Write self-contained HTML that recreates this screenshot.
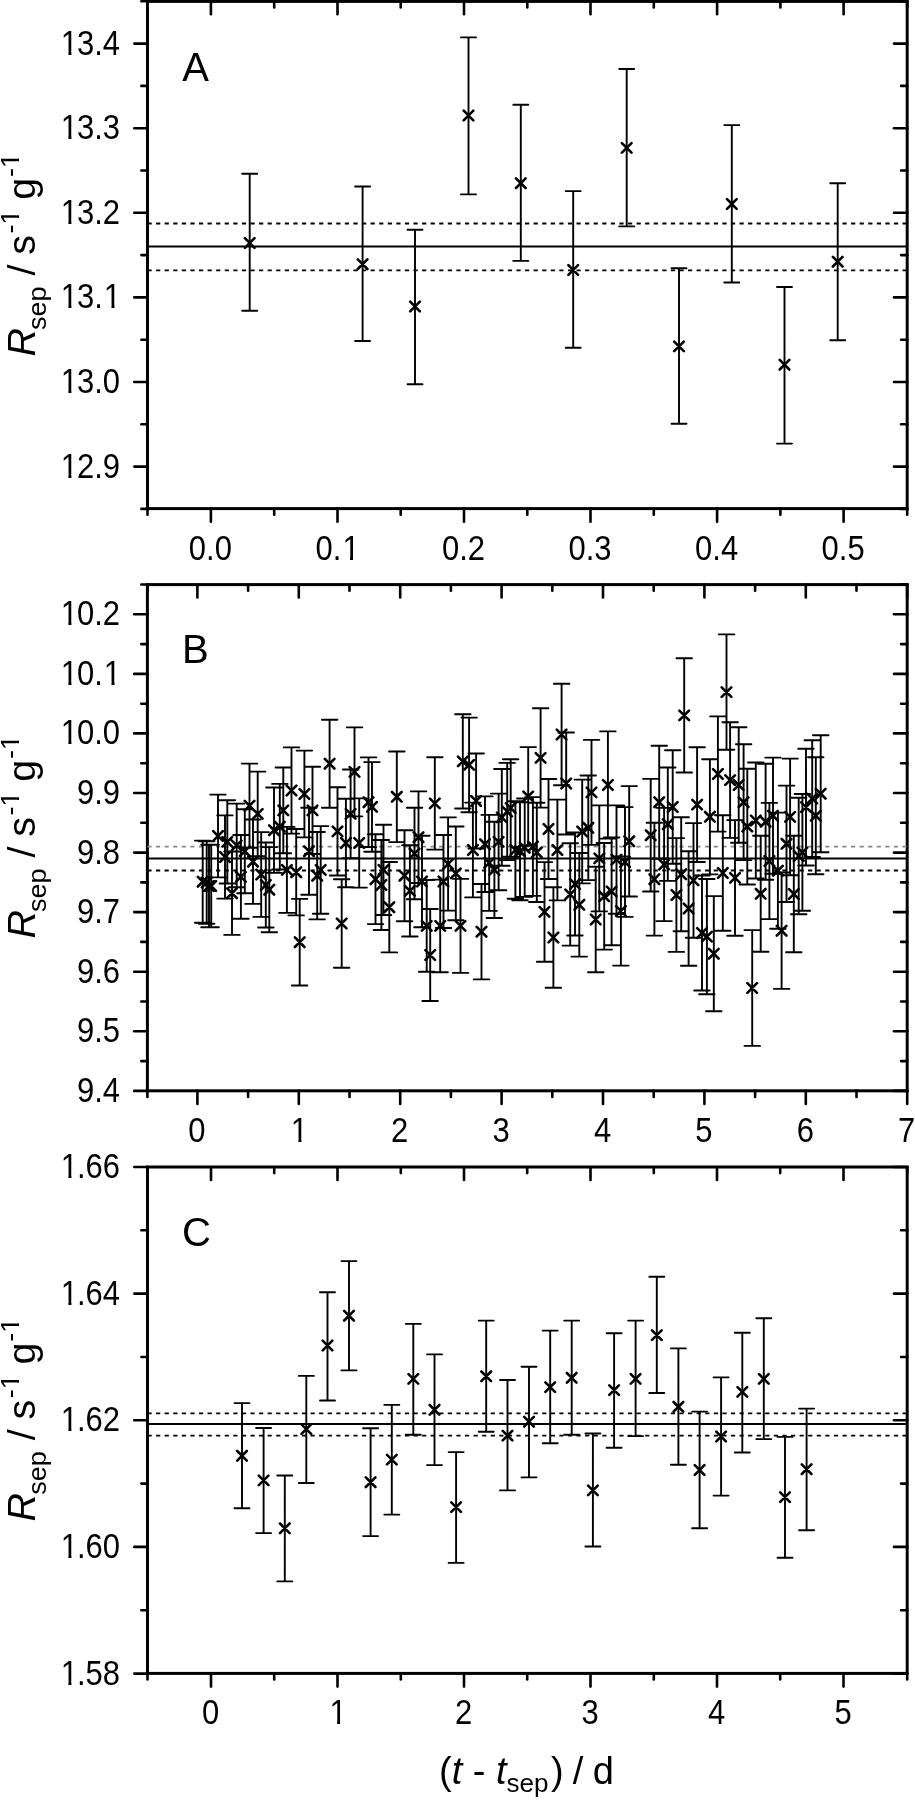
<!DOCTYPE html>
<html><head><meta charset="utf-8"><style>
html,body{margin:0;padding:0;background:#fff;}
svg{display:block;will-change:transform;}
text{font-family:"Liberation Sans", sans-serif;fill:#000;}
</style></head><body>
<svg width="915" height="1800" viewBox="0 0 915 1800">
<g stroke="#000" fill="none" stroke-linecap="butt">
<rect x="147.5" y="1.4" width="759.7" height="507.2" fill="none" stroke-width="3.0"/>
<line x1="210.9" y1="508.6" x2="210.9" y2="521.8" stroke-width="2.6" stroke-linecap="round"/>
<line x1="210.9" y1="1.4" x2="210.9" y2="14.3" stroke-width="2.6" stroke-linecap="round"/>
<line x1="337.5" y1="508.6" x2="337.5" y2="521.8" stroke-width="2.6" stroke-linecap="round"/>
<line x1="337.5" y1="1.4" x2="337.5" y2="14.3" stroke-width="2.6" stroke-linecap="round"/>
<line x1="464.0" y1="508.6" x2="464.0" y2="521.8" stroke-width="2.6" stroke-linecap="round"/>
<line x1="464.0" y1="1.4" x2="464.0" y2="14.3" stroke-width="2.6" stroke-linecap="round"/>
<line x1="590.5" y1="508.6" x2="590.5" y2="521.8" stroke-width="2.6" stroke-linecap="round"/>
<line x1="590.5" y1="1.4" x2="590.5" y2="14.3" stroke-width="2.6" stroke-linecap="round"/>
<line x1="717.1" y1="508.6" x2="717.1" y2="521.8" stroke-width="2.6" stroke-linecap="round"/>
<line x1="717.1" y1="1.4" x2="717.1" y2="14.3" stroke-width="2.6" stroke-linecap="round"/>
<line x1="843.6" y1="508.6" x2="843.6" y2="521.8" stroke-width="2.6" stroke-linecap="round"/>
<line x1="843.6" y1="1.4" x2="843.6" y2="14.3" stroke-width="2.6" stroke-linecap="round"/>
<line x1="147.5" y1="508.6" x2="147.5" y2="514.7" stroke-width="2.6" stroke-linecap="round"/>
<line x1="147.5" y1="1.4" x2="147.5" y2="7.5" stroke-width="2.6" stroke-linecap="round"/>
<line x1="274.2" y1="508.6" x2="274.2" y2="514.7" stroke-width="2.6" stroke-linecap="round"/>
<line x1="274.2" y1="1.4" x2="274.2" y2="7.5" stroke-width="2.6" stroke-linecap="round"/>
<line x1="400.7" y1="508.6" x2="400.7" y2="514.7" stroke-width="2.6" stroke-linecap="round"/>
<line x1="400.7" y1="1.4" x2="400.7" y2="7.5" stroke-width="2.6" stroke-linecap="round"/>
<line x1="527.3" y1="508.6" x2="527.3" y2="514.7" stroke-width="2.6" stroke-linecap="round"/>
<line x1="527.3" y1="1.4" x2="527.3" y2="7.5" stroke-width="2.6" stroke-linecap="round"/>
<line x1="653.8" y1="508.6" x2="653.8" y2="514.7" stroke-width="2.6" stroke-linecap="round"/>
<line x1="653.8" y1="1.4" x2="653.8" y2="7.5" stroke-width="2.6" stroke-linecap="round"/>
<line x1="780.4" y1="508.6" x2="780.4" y2="514.7" stroke-width="2.6" stroke-linecap="round"/>
<line x1="780.4" y1="1.4" x2="780.4" y2="7.5" stroke-width="2.6" stroke-linecap="round"/>
<line x1="907.2" y1="508.6" x2="907.2" y2="514.7" stroke-width="2.6" stroke-linecap="round"/>
<line x1="907.2" y1="1.4" x2="907.2" y2="7.5" stroke-width="2.6" stroke-linecap="round"/>
<line x1="134.3" y1="466.6" x2="147.5" y2="466.6" stroke-width="2.6" stroke-linecap="round"/>
<line x1="907.2" y1="466.6" x2="894.0" y2="466.6" stroke-width="2.6" stroke-linecap="round"/>
<line x1="134.3" y1="382.0" x2="147.5" y2="382.0" stroke-width="2.6" stroke-linecap="round"/>
<line x1="907.2" y1="382.0" x2="894.0" y2="382.0" stroke-width="2.6" stroke-linecap="round"/>
<line x1="134.3" y1="297.4" x2="147.5" y2="297.4" stroke-width="2.6" stroke-linecap="round"/>
<line x1="907.2" y1="297.4" x2="894.0" y2="297.4" stroke-width="2.6" stroke-linecap="round"/>
<line x1="134.3" y1="212.8" x2="147.5" y2="212.8" stroke-width="2.6" stroke-linecap="round"/>
<line x1="907.2" y1="212.8" x2="894.0" y2="212.8" stroke-width="2.6" stroke-linecap="round"/>
<line x1="134.3" y1="128.2" x2="147.5" y2="128.2" stroke-width="2.6" stroke-linecap="round"/>
<line x1="907.2" y1="128.2" x2="894.0" y2="128.2" stroke-width="2.6" stroke-linecap="round"/>
<line x1="134.3" y1="43.6" x2="147.5" y2="43.6" stroke-width="2.6" stroke-linecap="round"/>
<line x1="907.2" y1="43.6" x2="894.0" y2="43.6" stroke-width="2.6" stroke-linecap="round"/>
<line x1="141.4" y1="508.9" x2="147.5" y2="508.9" stroke-width="2.6" stroke-linecap="round"/>
<line x1="907.2" y1="508.9" x2="901.1" y2="508.9" stroke-width="2.6" stroke-linecap="round"/>
<line x1="141.4" y1="424.3" x2="147.5" y2="424.3" stroke-width="2.6" stroke-linecap="round"/>
<line x1="907.2" y1="424.3" x2="901.1" y2="424.3" stroke-width="2.6" stroke-linecap="round"/>
<line x1="141.4" y1="339.7" x2="147.5" y2="339.7" stroke-width="2.6" stroke-linecap="round"/>
<line x1="907.2" y1="339.7" x2="901.1" y2="339.7" stroke-width="2.6" stroke-linecap="round"/>
<line x1="141.4" y1="255.1" x2="147.5" y2="255.1" stroke-width="2.6" stroke-linecap="round"/>
<line x1="907.2" y1="255.1" x2="901.1" y2="255.1" stroke-width="2.6" stroke-linecap="round"/>
<line x1="141.4" y1="170.5" x2="147.5" y2="170.5" stroke-width="2.6" stroke-linecap="round"/>
<line x1="907.2" y1="170.5" x2="901.1" y2="170.5" stroke-width="2.6" stroke-linecap="round"/>
<line x1="141.4" y1="85.9" x2="147.5" y2="85.9" stroke-width="2.6" stroke-linecap="round"/>
<line x1="907.2" y1="85.9" x2="901.1" y2="85.9" stroke-width="2.6" stroke-linecap="round"/>
<line x1="141.4" y1="1.3" x2="147.5" y2="1.3" stroke-width="2.6" stroke-linecap="round"/>
<line x1="907.2" y1="1.3" x2="901.1" y2="1.3" stroke-width="2.6" stroke-linecap="round"/>
<g transform="translate(210.4,559.5) scale(1,1.11)"><text stroke="none" fill="#000" x="-21.55" y="0" font-size="31">0</text><text stroke="none" fill="#000" x="-4.31" y="0" font-size="31">.</text><text stroke="none" fill="#000" x="4.31" y="0" font-size="31">0</text></g>
<g transform="translate(337.0,559.5) scale(1,1.11)"><text stroke="none" fill="#000" x="-21.55" y="0" font-size="31">0</text><text stroke="none" fill="#000" x="-4.31" y="0" font-size="31">.</text><text stroke="none" fill="#000" x="5.39" y="0" font-size="31">1</text><rect x="6.94" y="-3.10" width="6.08" height="4.65" fill="#fff" stroke="none"/><rect x="16.05" y="-3.10" width="6.20" height="4.65" fill="#fff" stroke="none"/></g>
<g transform="translate(463.5,559.5) scale(1,1.11)"><text stroke="none" fill="#000" x="-21.55" y="0" font-size="31">0</text><text stroke="none" fill="#000" x="-4.31" y="0" font-size="31">.</text><text stroke="none" fill="#000" x="4.31" y="0" font-size="31">2</text></g>
<g transform="translate(590.0,559.5) scale(1,1.11)"><text stroke="none" fill="#000" x="-21.55" y="0" font-size="31">0</text><text stroke="none" fill="#000" x="-4.31" y="0" font-size="31">.</text><text stroke="none" fill="#000" x="4.31" y="0" font-size="31">3</text></g>
<g transform="translate(716.6,559.5) scale(1,1.11)"><text stroke="none" fill="#000" x="-21.55" y="0" font-size="31">0</text><text stroke="none" fill="#000" x="-4.31" y="0" font-size="31">.</text><text stroke="none" fill="#000" x="4.31" y="0" font-size="31">4</text></g>
<g transform="translate(843.1,559.5) scale(1,1.11)"><text stroke="none" fill="#000" x="-21.55" y="0" font-size="31">0</text><text stroke="none" fill="#000" x="-4.31" y="0" font-size="31">.</text><text stroke="none" fill="#000" x="4.31" y="0" font-size="31">5</text></g>
<g transform="translate(120.0,477.5) scale(1,1.11)"><text stroke="none" fill="#000" x="-59.24" y="0" font-size="31">1</text><text stroke="none" fill="#000" x="-43.09" y="0" font-size="31">2</text><text stroke="none" fill="#000" x="-25.85" y="0" font-size="31">.</text><text stroke="none" fill="#000" x="-17.24" y="0" font-size="31">9</text><rect x="-57.69" y="-3.10" width="6.08" height="4.65" fill="#fff" stroke="none"/><rect x="-48.58" y="-3.10" width="6.20" height="4.65" fill="#fff" stroke="none"/></g>
<g transform="translate(120.0,392.9) scale(1,1.11)"><text stroke="none" fill="#000" x="-59.24" y="0" font-size="31">1</text><text stroke="none" fill="#000" x="-43.09" y="0" font-size="31">3</text><text stroke="none" fill="#000" x="-25.85" y="0" font-size="31">.</text><text stroke="none" fill="#000" x="-17.24" y="0" font-size="31">0</text><rect x="-57.69" y="-3.10" width="6.08" height="4.65" fill="#fff" stroke="none"/><rect x="-48.58" y="-3.10" width="6.20" height="4.65" fill="#fff" stroke="none"/></g>
<g transform="translate(120.0,308.3) scale(1,1.11)"><text stroke="none" fill="#000" x="-59.24" y="0" font-size="31">1</text><text stroke="none" fill="#000" x="-43.09" y="0" font-size="31">3</text><text stroke="none" fill="#000" x="-25.85" y="0" font-size="31">.</text><text stroke="none" fill="#000" x="-16.15" y="0" font-size="31">1</text><rect x="-57.69" y="-3.10" width="6.08" height="4.65" fill="#fff" stroke="none"/><rect x="-48.58" y="-3.10" width="6.20" height="4.65" fill="#fff" stroke="none"/><rect x="-14.60" y="-3.10" width="6.08" height="4.65" fill="#fff" stroke="none"/><rect x="-5.49" y="-3.10" width="6.20" height="4.65" fill="#fff" stroke="none"/></g>
<g transform="translate(120.0,223.7) scale(1,1.11)"><text stroke="none" fill="#000" x="-59.24" y="0" font-size="31">1</text><text stroke="none" fill="#000" x="-43.09" y="0" font-size="31">3</text><text stroke="none" fill="#000" x="-25.85" y="0" font-size="31">.</text><text stroke="none" fill="#000" x="-17.24" y="0" font-size="31">2</text><rect x="-57.69" y="-3.10" width="6.08" height="4.65" fill="#fff" stroke="none"/><rect x="-48.58" y="-3.10" width="6.20" height="4.65" fill="#fff" stroke="none"/></g>
<g transform="translate(120.0,139.1) scale(1,1.11)"><text stroke="none" fill="#000" x="-59.24" y="0" font-size="31">1</text><text stroke="none" fill="#000" x="-43.09" y="0" font-size="31">3</text><text stroke="none" fill="#000" x="-25.85" y="0" font-size="31">.</text><text stroke="none" fill="#000" x="-17.24" y="0" font-size="31">3</text><rect x="-57.69" y="-3.10" width="6.08" height="4.65" fill="#fff" stroke="none"/><rect x="-48.58" y="-3.10" width="6.20" height="4.65" fill="#fff" stroke="none"/></g>
<g transform="translate(120.0,54.5) scale(1,1.11)"><text stroke="none" fill="#000" x="-59.24" y="0" font-size="31">1</text><text stroke="none" fill="#000" x="-43.09" y="0" font-size="31">3</text><text stroke="none" fill="#000" x="-25.85" y="0" font-size="31">.</text><text stroke="none" fill="#000" x="-17.24" y="0" font-size="31">4</text><rect x="-57.69" y="-3.10" width="6.08" height="4.65" fill="#fff" stroke="none"/><rect x="-48.58" y="-3.10" width="6.20" height="4.65" fill="#fff" stroke="none"/></g>
<text stroke="none" fill="#000" x="182.2" y="80.5" font-size="40" text-anchor="start" >A</text>
<line x1="147.5" y1="246.5" x2="907.2" y2="246.5" stroke-width="2.0" />
<line x1="147.5" y1="223.5" x2="907.2" y2="223.5" stroke-width="1.8" stroke-dasharray="4.2 4.38"/>
<line x1="147.5" y1="270.4" x2="907.2" y2="270.4" stroke-width="1.8" stroke-dasharray="4.2 4.38"/>
<path d="M249.7,173.7V310.7M242.2,173.7h15.0M242.2,310.7h15.0M362.6,186.5V341.0M355.1,186.5h15.0M355.1,341.0h15.0M415.0,229.7V384.2M407.5,229.7h15.0M407.5,384.2h15.0M468.5,37.4V194.4M461.0,37.4h15.0M461.0,194.4h15.0M520.8,104.7V260.9M513.3,104.7h15.0M513.3,260.9h15.0M573.2,191.1V347.7M565.7,191.1h15.0M565.7,347.7h15.0M626.7,69.0V226.4M619.2,69.0h15.0M619.2,226.4h15.0M679.0,268.3V423.7M671.5,268.3h15.0M671.5,423.7h15.0M731.8,125.1V282.5M724.3,125.1h15.0M724.3,282.5h15.0M784.5,287.0V443.6M777.0,287.0h15.0M777.0,443.6h15.0M837.7,183.2V340.2M830.2,183.2h15.0M830.2,340.2h15.0" stroke-width="1.9" stroke-linecap="round"/>
<path d="M244.9,238.2l9.6,9.6M244.9,247.8l9.6,-9.6M357.8,259.4l9.6,9.6M357.8,269.0l9.6,-9.6M410.2,301.7l9.6,9.6M410.2,311.3l9.6,-9.6M463.7,110.7l9.6,9.6M463.7,120.3l9.6,-9.6M516.0,178.4l9.6,9.6M516.0,188.0l9.6,-9.6M568.4,265.2l9.6,9.6M568.4,274.8l9.6,-9.6M621.9,143.1l9.6,9.6M621.9,152.7l9.6,-9.6M674.2,341.6l9.6,9.6M674.2,351.2l9.6,-9.6M727.0,199.2l9.6,9.6M727.0,208.8l9.6,-9.6M779.7,359.9l9.6,9.6M779.7,369.5l9.6,-9.6M832.9,256.9l9.6,9.6M832.9,266.5l9.6,-9.6" stroke-width="2.6" stroke-linecap="round"/>
<rect x="147.4" y="584.6" width="759.8" height="506.2" fill="none" stroke-width="3.0"/>
<line x1="197.4" y1="1090.8" x2="197.4" y2="1104.0" stroke-width="2.6" stroke-linecap="round"/>
<line x1="197.4" y1="584.6" x2="197.4" y2="597.5" stroke-width="2.6" stroke-linecap="round"/>
<line x1="298.8" y1="1090.8" x2="298.8" y2="1104.0" stroke-width="2.6" stroke-linecap="round"/>
<line x1="298.8" y1="584.6" x2="298.8" y2="597.5" stroke-width="2.6" stroke-linecap="round"/>
<line x1="400.2" y1="1090.8" x2="400.2" y2="1104.0" stroke-width="2.6" stroke-linecap="round"/>
<line x1="400.2" y1="584.6" x2="400.2" y2="597.5" stroke-width="2.6" stroke-linecap="round"/>
<line x1="501.6" y1="1090.8" x2="501.6" y2="1104.0" stroke-width="2.6" stroke-linecap="round"/>
<line x1="501.6" y1="584.6" x2="501.6" y2="597.5" stroke-width="2.6" stroke-linecap="round"/>
<line x1="603.0" y1="1090.8" x2="603.0" y2="1104.0" stroke-width="2.6" stroke-linecap="round"/>
<line x1="603.0" y1="584.6" x2="603.0" y2="597.5" stroke-width="2.6" stroke-linecap="round"/>
<line x1="704.4" y1="1090.8" x2="704.4" y2="1104.0" stroke-width="2.6" stroke-linecap="round"/>
<line x1="704.4" y1="584.6" x2="704.4" y2="597.5" stroke-width="2.6" stroke-linecap="round"/>
<line x1="805.8" y1="1090.8" x2="805.8" y2="1104.0" stroke-width="2.6" stroke-linecap="round"/>
<line x1="805.8" y1="584.6" x2="805.8" y2="597.5" stroke-width="2.6" stroke-linecap="round"/>
<line x1="907.2" y1="1090.8" x2="907.2" y2="1104.0" stroke-width="2.6" stroke-linecap="round"/>
<line x1="907.2" y1="584.6" x2="907.2" y2="597.5" stroke-width="2.6" stroke-linecap="round"/>
<line x1="147.4" y1="1090.8" x2="147.4" y2="1096.9" stroke-width="2.6" stroke-linecap="round"/>
<line x1="147.4" y1="584.6" x2="147.4" y2="590.7" stroke-width="2.6" stroke-linecap="round"/>
<line x1="248.1" y1="1090.8" x2="248.1" y2="1096.9" stroke-width="2.6" stroke-linecap="round"/>
<line x1="248.1" y1="584.6" x2="248.1" y2="590.7" stroke-width="2.6" stroke-linecap="round"/>
<line x1="349.5" y1="1090.8" x2="349.5" y2="1096.9" stroke-width="2.6" stroke-linecap="round"/>
<line x1="349.5" y1="584.6" x2="349.5" y2="590.7" stroke-width="2.6" stroke-linecap="round"/>
<line x1="450.9" y1="1090.8" x2="450.9" y2="1096.9" stroke-width="2.6" stroke-linecap="round"/>
<line x1="450.9" y1="584.6" x2="450.9" y2="590.7" stroke-width="2.6" stroke-linecap="round"/>
<line x1="552.3" y1="1090.8" x2="552.3" y2="1096.9" stroke-width="2.6" stroke-linecap="round"/>
<line x1="552.3" y1="584.6" x2="552.3" y2="590.7" stroke-width="2.6" stroke-linecap="round"/>
<line x1="653.7" y1="1090.8" x2="653.7" y2="1096.9" stroke-width="2.6" stroke-linecap="round"/>
<line x1="653.7" y1="584.6" x2="653.7" y2="590.7" stroke-width="2.6" stroke-linecap="round"/>
<line x1="755.1" y1="1090.8" x2="755.1" y2="1096.9" stroke-width="2.6" stroke-linecap="round"/>
<line x1="755.1" y1="584.6" x2="755.1" y2="590.7" stroke-width="2.6" stroke-linecap="round"/>
<line x1="856.5" y1="1090.8" x2="856.5" y2="1096.9" stroke-width="2.6" stroke-linecap="round"/>
<line x1="856.5" y1="584.6" x2="856.5" y2="590.7" stroke-width="2.6" stroke-linecap="round"/>
<line x1="134.2" y1="1090.9" x2="147.4" y2="1090.9" stroke-width="2.6" stroke-linecap="round"/>
<line x1="907.2" y1="1090.9" x2="894.0" y2="1090.9" stroke-width="2.6" stroke-linecap="round"/>
<line x1="134.2" y1="1031.3" x2="147.4" y2="1031.3" stroke-width="2.6" stroke-linecap="round"/>
<line x1="907.2" y1="1031.3" x2="894.0" y2="1031.3" stroke-width="2.6" stroke-linecap="round"/>
<line x1="134.2" y1="971.7" x2="147.4" y2="971.7" stroke-width="2.6" stroke-linecap="round"/>
<line x1="907.2" y1="971.7" x2="894.0" y2="971.7" stroke-width="2.6" stroke-linecap="round"/>
<line x1="134.2" y1="912.1" x2="147.4" y2="912.1" stroke-width="2.6" stroke-linecap="round"/>
<line x1="907.2" y1="912.1" x2="894.0" y2="912.1" stroke-width="2.6" stroke-linecap="round"/>
<line x1="134.2" y1="852.6" x2="147.4" y2="852.6" stroke-width="2.6" stroke-linecap="round"/>
<line x1="907.2" y1="852.6" x2="894.0" y2="852.6" stroke-width="2.6" stroke-linecap="round"/>
<line x1="134.2" y1="793.0" x2="147.4" y2="793.0" stroke-width="2.6" stroke-linecap="round"/>
<line x1="907.2" y1="793.0" x2="894.0" y2="793.0" stroke-width="2.6" stroke-linecap="round"/>
<line x1="134.2" y1="733.4" x2="147.4" y2="733.4" stroke-width="2.6" stroke-linecap="round"/>
<line x1="907.2" y1="733.4" x2="894.0" y2="733.4" stroke-width="2.6" stroke-linecap="round"/>
<line x1="134.2" y1="673.9" x2="147.4" y2="673.9" stroke-width="2.6" stroke-linecap="round"/>
<line x1="907.2" y1="673.9" x2="894.0" y2="673.9" stroke-width="2.6" stroke-linecap="round"/>
<line x1="134.2" y1="614.3" x2="147.4" y2="614.3" stroke-width="2.6" stroke-linecap="round"/>
<line x1="907.2" y1="614.3" x2="894.0" y2="614.3" stroke-width="2.6" stroke-linecap="round"/>
<line x1="141.3" y1="1061.1" x2="147.4" y2="1061.1" stroke-width="2.6" stroke-linecap="round"/>
<line x1="907.2" y1="1061.1" x2="901.1" y2="1061.1" stroke-width="2.6" stroke-linecap="round"/>
<line x1="141.3" y1="1001.5" x2="147.4" y2="1001.5" stroke-width="2.6" stroke-linecap="round"/>
<line x1="907.2" y1="1001.5" x2="901.1" y2="1001.5" stroke-width="2.6" stroke-linecap="round"/>
<line x1="141.3" y1="941.9" x2="147.4" y2="941.9" stroke-width="2.6" stroke-linecap="round"/>
<line x1="907.2" y1="941.9" x2="901.1" y2="941.9" stroke-width="2.6" stroke-linecap="round"/>
<line x1="141.3" y1="882.4" x2="147.4" y2="882.4" stroke-width="2.6" stroke-linecap="round"/>
<line x1="907.2" y1="882.4" x2="901.1" y2="882.4" stroke-width="2.6" stroke-linecap="round"/>
<line x1="141.3" y1="822.8" x2="147.4" y2="822.8" stroke-width="2.6" stroke-linecap="round"/>
<line x1="907.2" y1="822.8" x2="901.1" y2="822.8" stroke-width="2.6" stroke-linecap="round"/>
<line x1="141.3" y1="763.2" x2="147.4" y2="763.2" stroke-width="2.6" stroke-linecap="round"/>
<line x1="907.2" y1="763.2" x2="901.1" y2="763.2" stroke-width="2.6" stroke-linecap="round"/>
<line x1="141.3" y1="703.7" x2="147.4" y2="703.7" stroke-width="2.6" stroke-linecap="round"/>
<line x1="907.2" y1="703.7" x2="901.1" y2="703.7" stroke-width="2.6" stroke-linecap="round"/>
<line x1="141.3" y1="644.1" x2="147.4" y2="644.1" stroke-width="2.6" stroke-linecap="round"/>
<line x1="907.2" y1="644.1" x2="901.1" y2="644.1" stroke-width="2.6" stroke-linecap="round"/>
<line x1="141.3" y1="584.5" x2="147.4" y2="584.5" stroke-width="2.6" stroke-linecap="round"/>
<line x1="907.2" y1="584.5" x2="901.1" y2="584.5" stroke-width="2.6" stroke-linecap="round"/>
<g transform="translate(196.9,1141.7) scale(1,1.11)"><text stroke="none" fill="#000" x="-8.62" y="0" font-size="31">0</text></g>
<g transform="translate(298.3,1141.7) scale(1,1.11)"><text stroke="none" fill="#000" x="-7.53" y="0" font-size="31">1</text><rect x="-5.98" y="-3.10" width="6.08" height="4.65" fill="#fff" stroke="none"/><rect x="3.13" y="-3.10" width="6.20" height="4.65" fill="#fff" stroke="none"/></g>
<g transform="translate(399.7,1141.7) scale(1,1.11)"><text stroke="none" fill="#000" x="-8.62" y="0" font-size="31">2</text></g>
<g transform="translate(501.1,1141.7) scale(1,1.11)"><text stroke="none" fill="#000" x="-8.62" y="0" font-size="31">3</text></g>
<g transform="translate(602.5,1141.7) scale(1,1.11)"><text stroke="none" fill="#000" x="-8.62" y="0" font-size="31">4</text></g>
<g transform="translate(703.9,1141.7) scale(1,1.11)"><text stroke="none" fill="#000" x="-8.62" y="0" font-size="31">5</text></g>
<g transform="translate(805.3,1141.7) scale(1,1.11)"><text stroke="none" fill="#000" x="-8.62" y="0" font-size="31">6</text></g>
<g transform="translate(906.7,1141.7) scale(1,1.11)"><text stroke="none" fill="#000" x="-8.62" y="0" font-size="31">7</text></g>
<g transform="translate(120.0,1101.8) scale(1,1.11)"><text stroke="none" fill="#000" x="-43.09" y="0" font-size="31">9</text><text stroke="none" fill="#000" x="-25.85" y="0" font-size="31">.</text><text stroke="none" fill="#000" x="-17.24" y="0" font-size="31">4</text></g>
<g transform="translate(120.0,1042.2) scale(1,1.11)"><text stroke="none" fill="#000" x="-43.09" y="0" font-size="31">9</text><text stroke="none" fill="#000" x="-25.85" y="0" font-size="31">.</text><text stroke="none" fill="#000" x="-17.24" y="0" font-size="31">5</text></g>
<g transform="translate(120.0,982.6) scale(1,1.11)"><text stroke="none" fill="#000" x="-43.09" y="0" font-size="31">9</text><text stroke="none" fill="#000" x="-25.85" y="0" font-size="31">.</text><text stroke="none" fill="#000" x="-17.24" y="0" font-size="31">6</text></g>
<g transform="translate(120.0,923.0) scale(1,1.11)"><text stroke="none" fill="#000" x="-43.09" y="0" font-size="31">9</text><text stroke="none" fill="#000" x="-25.85" y="0" font-size="31">.</text><text stroke="none" fill="#000" x="-17.24" y="0" font-size="31">7</text></g>
<g transform="translate(120.0,863.5) scale(1,1.11)"><text stroke="none" fill="#000" x="-43.09" y="0" font-size="31">9</text><text stroke="none" fill="#000" x="-25.85" y="0" font-size="31">.</text><text stroke="none" fill="#000" x="-17.24" y="0" font-size="31">8</text></g>
<g transform="translate(120.0,803.9) scale(1,1.11)"><text stroke="none" fill="#000" x="-43.09" y="0" font-size="31">9</text><text stroke="none" fill="#000" x="-25.85" y="0" font-size="31">.</text><text stroke="none" fill="#000" x="-17.24" y="0" font-size="31">9</text></g>
<g transform="translate(120.0,744.3) scale(1,1.11)"><text stroke="none" fill="#000" x="-59.24" y="0" font-size="31">1</text><text stroke="none" fill="#000" x="-43.09" y="0" font-size="31">0</text><text stroke="none" fill="#000" x="-25.85" y="0" font-size="31">.</text><text stroke="none" fill="#000" x="-17.24" y="0" font-size="31">0</text><rect x="-57.69" y="-3.10" width="6.08" height="4.65" fill="#fff" stroke="none"/><rect x="-48.58" y="-3.10" width="6.20" height="4.65" fill="#fff" stroke="none"/></g>
<g transform="translate(120.0,684.8) scale(1,1.11)"><text stroke="none" fill="#000" x="-59.24" y="0" font-size="31">1</text><text stroke="none" fill="#000" x="-43.09" y="0" font-size="31">0</text><text stroke="none" fill="#000" x="-25.85" y="0" font-size="31">.</text><text stroke="none" fill="#000" x="-16.15" y="0" font-size="31">1</text><rect x="-57.69" y="-3.10" width="6.08" height="4.65" fill="#fff" stroke="none"/><rect x="-48.58" y="-3.10" width="6.20" height="4.65" fill="#fff" stroke="none"/><rect x="-14.60" y="-3.10" width="6.08" height="4.65" fill="#fff" stroke="none"/><rect x="-5.49" y="-3.10" width="6.20" height="4.65" fill="#fff" stroke="none"/></g>
<g transform="translate(120.0,625.2) scale(1,1.11)"><text stroke="none" fill="#000" x="-59.24" y="0" font-size="31">1</text><text stroke="none" fill="#000" x="-43.09" y="0" font-size="31">0</text><text stroke="none" fill="#000" x="-25.85" y="0" font-size="31">.</text><text stroke="none" fill="#000" x="-17.24" y="0" font-size="31">2</text><rect x="-57.69" y="-3.10" width="6.08" height="4.65" fill="#fff" stroke="none"/><rect x="-48.58" y="-3.10" width="6.20" height="4.65" fill="#fff" stroke="none"/></g>
<text stroke="none" fill="#000" x="182.0" y="662.5" font-size="40" text-anchor="start" >B</text>
<rect x="147.5" y="1167.0" width="759.7" height="506.4" fill="none" stroke-width="3.0"/>
<line x1="211.0" y1="1673.4" x2="211.0" y2="1686.6" stroke-width="2.6" stroke-linecap="round"/>
<line x1="211.0" y1="1167.0" x2="211.0" y2="1179.9" stroke-width="2.6" stroke-linecap="round"/>
<line x1="337.5" y1="1673.4" x2="337.5" y2="1686.6" stroke-width="2.6" stroke-linecap="round"/>
<line x1="337.5" y1="1167.0" x2="337.5" y2="1179.9" stroke-width="2.6" stroke-linecap="round"/>
<line x1="464.0" y1="1673.4" x2="464.0" y2="1686.6" stroke-width="2.6" stroke-linecap="round"/>
<line x1="464.0" y1="1167.0" x2="464.0" y2="1179.9" stroke-width="2.6" stroke-linecap="round"/>
<line x1="590.5" y1="1673.4" x2="590.5" y2="1686.6" stroke-width="2.6" stroke-linecap="round"/>
<line x1="590.5" y1="1167.0" x2="590.5" y2="1179.9" stroke-width="2.6" stroke-linecap="round"/>
<line x1="717.0" y1="1673.4" x2="717.0" y2="1686.6" stroke-width="2.6" stroke-linecap="round"/>
<line x1="717.0" y1="1167.0" x2="717.0" y2="1179.9" stroke-width="2.6" stroke-linecap="round"/>
<line x1="843.5" y1="1673.4" x2="843.5" y2="1686.6" stroke-width="2.6" stroke-linecap="round"/>
<line x1="843.5" y1="1167.0" x2="843.5" y2="1179.9" stroke-width="2.6" stroke-linecap="round"/>
<line x1="147.5" y1="1673.4" x2="147.5" y2="1679.5" stroke-width="2.6" stroke-linecap="round"/>
<line x1="147.5" y1="1167.0" x2="147.5" y2="1173.1" stroke-width="2.6" stroke-linecap="round"/>
<line x1="274.2" y1="1673.4" x2="274.2" y2="1679.5" stroke-width="2.6" stroke-linecap="round"/>
<line x1="274.2" y1="1167.0" x2="274.2" y2="1173.1" stroke-width="2.6" stroke-linecap="round"/>
<line x1="400.8" y1="1673.4" x2="400.8" y2="1679.5" stroke-width="2.6" stroke-linecap="round"/>
<line x1="400.8" y1="1167.0" x2="400.8" y2="1173.1" stroke-width="2.6" stroke-linecap="round"/>
<line x1="527.2" y1="1673.4" x2="527.2" y2="1679.5" stroke-width="2.6" stroke-linecap="round"/>
<line x1="527.2" y1="1167.0" x2="527.2" y2="1173.1" stroke-width="2.6" stroke-linecap="round"/>
<line x1="653.8" y1="1673.4" x2="653.8" y2="1679.5" stroke-width="2.6" stroke-linecap="round"/>
<line x1="653.8" y1="1167.0" x2="653.8" y2="1173.1" stroke-width="2.6" stroke-linecap="round"/>
<line x1="780.2" y1="1673.4" x2="780.2" y2="1679.5" stroke-width="2.6" stroke-linecap="round"/>
<line x1="780.2" y1="1167.0" x2="780.2" y2="1173.1" stroke-width="2.6" stroke-linecap="round"/>
<line x1="907.2" y1="1673.4" x2="907.2" y2="1679.5" stroke-width="2.6" stroke-linecap="round"/>
<line x1="907.2" y1="1167.0" x2="907.2" y2="1173.1" stroke-width="2.6" stroke-linecap="round"/>
<line x1="134.3" y1="1673.6" x2="147.5" y2="1673.6" stroke-width="2.6" stroke-linecap="round"/>
<line x1="907.2" y1="1673.6" x2="894.0" y2="1673.6" stroke-width="2.6" stroke-linecap="round"/>
<line x1="134.3" y1="1546.9" x2="147.5" y2="1546.9" stroke-width="2.6" stroke-linecap="round"/>
<line x1="907.2" y1="1546.9" x2="894.0" y2="1546.9" stroke-width="2.6" stroke-linecap="round"/>
<line x1="134.3" y1="1420.3" x2="147.5" y2="1420.3" stroke-width="2.6" stroke-linecap="round"/>
<line x1="907.2" y1="1420.3" x2="894.0" y2="1420.3" stroke-width="2.6" stroke-linecap="round"/>
<line x1="134.3" y1="1293.6" x2="147.5" y2="1293.6" stroke-width="2.6" stroke-linecap="round"/>
<line x1="907.2" y1="1293.6" x2="894.0" y2="1293.6" stroke-width="2.6" stroke-linecap="round"/>
<line x1="134.3" y1="1167.0" x2="147.5" y2="1167.0" stroke-width="2.6" stroke-linecap="round"/>
<line x1="907.2" y1="1167.0" x2="894.0" y2="1167.0" stroke-width="2.6" stroke-linecap="round"/>
<line x1="141.4" y1="1610.2" x2="147.5" y2="1610.2" stroke-width="2.6" stroke-linecap="round"/>
<line x1="907.2" y1="1610.2" x2="901.1" y2="1610.2" stroke-width="2.6" stroke-linecap="round"/>
<line x1="141.4" y1="1483.6" x2="147.5" y2="1483.6" stroke-width="2.6" stroke-linecap="round"/>
<line x1="907.2" y1="1483.6" x2="901.1" y2="1483.6" stroke-width="2.6" stroke-linecap="round"/>
<line x1="141.4" y1="1357.0" x2="147.5" y2="1357.0" stroke-width="2.6" stroke-linecap="round"/>
<line x1="907.2" y1="1357.0" x2="901.1" y2="1357.0" stroke-width="2.6" stroke-linecap="round"/>
<line x1="141.4" y1="1230.3" x2="147.5" y2="1230.3" stroke-width="2.6" stroke-linecap="round"/>
<line x1="907.2" y1="1230.3" x2="901.1" y2="1230.3" stroke-width="2.6" stroke-linecap="round"/>
<g transform="translate(210.5,1724.3) scale(1,1.11)"><text stroke="none" fill="#000" x="-8.62" y="0" font-size="31">0</text></g>
<g transform="translate(337.0,1724.3) scale(1,1.11)"><text stroke="none" fill="#000" x="-7.53" y="0" font-size="31">1</text><rect x="-5.98" y="-3.10" width="6.08" height="4.65" fill="#fff" stroke="none"/><rect x="3.13" y="-3.10" width="6.20" height="4.65" fill="#fff" stroke="none"/></g>
<g transform="translate(463.5,1724.3) scale(1,1.11)"><text stroke="none" fill="#000" x="-8.62" y="0" font-size="31">2</text></g>
<g transform="translate(590.0,1724.3) scale(1,1.11)"><text stroke="none" fill="#000" x="-8.62" y="0" font-size="31">3</text></g>
<g transform="translate(716.5,1724.3) scale(1,1.11)"><text stroke="none" fill="#000" x="-8.62" y="0" font-size="31">4</text></g>
<g transform="translate(843.0,1724.3) scale(1,1.11)"><text stroke="none" fill="#000" x="-8.62" y="0" font-size="31">5</text></g>
<g transform="translate(120.0,1684.5) scale(1,1.11)"><text stroke="none" fill="#000" x="-59.24" y="0" font-size="31">1</text><text stroke="none" fill="#000" x="-43.09" y="0" font-size="31">.</text><text stroke="none" fill="#000" x="-34.47" y="0" font-size="31">5</text><text stroke="none" fill="#000" x="-17.24" y="0" font-size="31">8</text><rect x="-57.69" y="-3.10" width="6.08" height="4.65" fill="#fff" stroke="none"/><rect x="-48.58" y="-3.10" width="6.20" height="4.65" fill="#fff" stroke="none"/></g>
<g transform="translate(120.0,1557.8) scale(1,1.11)"><text stroke="none" fill="#000" x="-59.24" y="0" font-size="31">1</text><text stroke="none" fill="#000" x="-43.09" y="0" font-size="31">.</text><text stroke="none" fill="#000" x="-34.47" y="0" font-size="31">6</text><text stroke="none" fill="#000" x="-17.24" y="0" font-size="31">0</text><rect x="-57.69" y="-3.10" width="6.08" height="4.65" fill="#fff" stroke="none"/><rect x="-48.58" y="-3.10" width="6.20" height="4.65" fill="#fff" stroke="none"/></g>
<g transform="translate(120.0,1431.2) scale(1,1.11)"><text stroke="none" fill="#000" x="-59.24" y="0" font-size="31">1</text><text stroke="none" fill="#000" x="-43.09" y="0" font-size="31">.</text><text stroke="none" fill="#000" x="-34.47" y="0" font-size="31">6</text><text stroke="none" fill="#000" x="-17.24" y="0" font-size="31">2</text><rect x="-57.69" y="-3.10" width="6.08" height="4.65" fill="#fff" stroke="none"/><rect x="-48.58" y="-3.10" width="6.20" height="4.65" fill="#fff" stroke="none"/></g>
<g transform="translate(120.0,1304.5) scale(1,1.11)"><text stroke="none" fill="#000" x="-59.24" y="0" font-size="31">1</text><text stroke="none" fill="#000" x="-43.09" y="0" font-size="31">.</text><text stroke="none" fill="#000" x="-34.47" y="0" font-size="31">6</text><text stroke="none" fill="#000" x="-17.24" y="0" font-size="31">4</text><rect x="-57.69" y="-3.10" width="6.08" height="4.65" fill="#fff" stroke="none"/><rect x="-48.58" y="-3.10" width="6.20" height="4.65" fill="#fff" stroke="none"/></g>
<g transform="translate(120.0,1177.9) scale(1,1.11)"><text stroke="none" fill="#000" x="-59.24" y="0" font-size="31">1</text><text stroke="none" fill="#000" x="-43.09" y="0" font-size="31">.</text><text stroke="none" fill="#000" x="-34.47" y="0" font-size="31">6</text><text stroke="none" fill="#000" x="-17.24" y="0" font-size="31">6</text><rect x="-57.69" y="-3.10" width="6.08" height="4.65" fill="#fff" stroke="none"/><rect x="-48.58" y="-3.10" width="6.20" height="4.65" fill="#fff" stroke="none"/></g>
<text stroke="none" fill="#000" x="182.0" y="1246.0" font-size="40" text-anchor="start" >C</text>
<g>
<line x1="147.4" y1="858.4" x2="907.2" y2="858.4" stroke-width="2.0" />
<line x1="147.4" y1="846.6" x2="907.2" y2="846.6" stroke-width="1.8" stroke="#888" stroke-dasharray="4.2 4.38"/>
<line x1="147.4" y1="870.5" x2="907.2" y2="870.5" stroke-width="1.8" stroke-dasharray="4.2 4.38"/>
<path d="M202.7,840.6V922.8M194.9,840.6h15.5M194.9,922.8h15.5M206.7,841.3V923.7M198.9,841.3h15.5M198.9,923.7h15.5M209.0,844.8V927.2M201.2,844.8h15.5M201.2,927.2h15.5M211.2,844.7V927.3M203.4,844.7h15.5M203.4,927.3h15.5M218.0,794.6V877.4M210.2,794.6h15.5M210.2,877.4h15.5M225.0,815.4V898.6M217.2,815.4h15.5M217.2,898.6h15.5M227.3,800.3V883.5M219.6,800.3h15.5M219.6,883.5h15.5M232.0,851.5V934.9M224.2,851.5h15.5M224.2,934.9h15.5M236.7,803.6V887.2M228.9,803.6h15.5M228.9,887.2h15.5M240.9,835.0V918.8M233.2,835.0h15.5M233.2,918.8h15.5M244.8,809.2V893.2M237.1,809.2h15.5M237.1,893.2h15.5M249.5,763.6V847.8M241.8,763.6h15.5M241.8,847.8h15.5M253.0,819.5V903.9M245.2,819.5h15.5M245.2,903.9h15.5M257.7,771.6V856.2M249.9,771.6h15.5M249.9,856.2h15.5M261.2,832.1V916.9M253.4,832.1h15.5M253.4,916.9h15.5M265.8,842.5V927.5M258.1,842.5h15.5M258.1,927.5h15.5M269.3,847.1V932.3M261.6,847.1h15.5M261.6,932.3h15.5M274.0,787.5V872.9M266.2,787.5h15.5M266.2,872.9h15.5M279.8,783.9V869.5M272.1,783.9h15.5M272.1,869.5h15.5M283.3,767.5V853.3M275.6,767.5h15.5M275.6,853.3h15.5M286.9,826.9V912.9M279.1,826.9h15.5M279.1,912.9h15.5M291.5,747.4V833.6M283.8,747.4h15.5M283.8,833.6h15.5M296.2,829.0V915.4M288.4,829.0h15.5M288.4,915.4h15.5M299.7,898.9V985.5M291.9,898.9h15.5M291.9,985.5h15.5M304.4,750.6V837.4M296.6,750.6h15.5M296.6,837.4h15.5M309.0,807.7V894.7M301.2,807.7h15.5M301.2,894.7h15.5M312.5,766.8V854.0M304.8,766.8h15.5M304.8,854.0h15.5M317.2,832.0V919.4M309.4,832.0h15.5M309.4,919.4h15.5M320.7,826.1V913.7M312.9,826.1h15.5M312.9,913.7h15.5M329.6,719.7V807.7M321.9,719.7h15.5M321.9,807.7h15.5M337.5,787.2V875.5M329.8,787.2h15.5M329.8,875.5h15.5M341.7,879.3V967.7M333.9,879.3h15.5M333.9,967.7h15.5M345.9,798.7V887.3M338.1,798.7h15.5M338.1,887.3h15.5M350.6,769.5V858.3M342.9,769.5h15.5M342.9,858.3h15.5M354.5,727.4V816.4M346.8,727.4h15.5M346.8,816.4h15.5M359.2,798.4V887.6M351.4,798.4h15.5M351.4,887.6h15.5M368.5,757.4V847.0M360.8,757.4h15.5M360.8,847.0h15.5M372.0,762.1V851.7M364.2,762.1h15.5M364.2,851.7h15.5M375.5,834.3V924.1M367.8,834.3h15.5M367.8,924.1h15.5M381.4,840.0V930.0M373.6,840.0h15.5M373.6,930.0h15.5M383.5,824.8V915.0M375.8,824.8h15.5M375.8,915.0h15.5M389.3,862.0V952.4M381.6,862.0h15.5M381.6,952.4h15.5M396.8,751.5V842.1M389.1,751.5h15.5M389.1,842.1h15.5M404.5,830.2V921.2M396.8,830.2h15.5M396.8,921.2h15.5M409.9,845.3V936.5M402.1,845.3h15.5M402.1,936.5h15.5M414.5,807.8V899.2M406.8,807.8h15.5M406.8,899.2h15.5M418.5,791.4V883.0M410.8,791.4h15.5M410.8,883.0h15.5M422.0,835.7V927.3M414.2,835.7h15.5M414.2,927.3h15.5M426.7,880.0V971.8M418.9,880.0h15.5M418.9,971.8h15.5M430.2,909.0V1001.0M422.4,909.0h15.5M422.4,1001.0h15.5M434.8,757.2V849.6M427.1,757.2h15.5M427.1,849.6h15.5M440.2,879.6V972.2M432.4,879.6h15.5M432.4,972.2h15.5M443.5,835.0V928.0M435.8,835.0h15.5M435.8,928.0h15.5M448.1,817.4V910.6M440.4,817.4h15.5M440.4,910.6h15.5M455.8,826.5V920.3M448.1,826.5h15.5M448.1,920.3h15.5M460.5,878.9V972.9M452.8,878.9h15.5M452.8,972.9h15.5M462.8,714.3V808.5M455.1,714.3h15.5M455.1,808.5h15.5M469.1,717.6V812.2M461.4,717.6h15.5M461.4,812.2h15.5M472.9,802.6V897.4M465.1,802.6h15.5M465.1,897.4h15.5M476.1,753.5V848.5M468.4,753.5h15.5M468.4,848.5h15.5M481.5,884.0V979.4M473.8,884.0h15.5M473.8,979.4h15.5M485.0,796.4V892.0M477.2,796.4h15.5M477.2,892.0h15.5M489.2,814.9V910.9M481.4,814.9h15.5M481.4,910.9h15.5M494.4,821.8V918.0M486.6,821.8h15.5M486.6,918.0h15.5M498.6,793.6V890.2M490.9,793.6h15.5M490.9,890.2h15.5M501.8,769.0V865.8M494.1,769.0h15.5M494.1,865.8h15.5M507.2,762.9V860.1M499.4,762.9h15.5M499.4,860.1h15.5M510.7,759.3V856.7M502.9,759.3h15.5M502.9,856.7h15.5M515.4,801.2V898.8M507.6,801.2h15.5M507.6,898.8h15.5M520.0,802.2V900.2M512.2,802.2h15.5M512.2,900.2h15.5M524.7,798.5V896.9M517.0,798.5h15.5M517.0,896.9h15.5M528.2,747.1V845.7M520.5,747.1h15.5M520.5,845.7h15.5M532.9,797.1V895.9M525.1,797.1h15.5M525.1,895.9h15.5M536.8,802.8V902.0M529.0,802.8h15.5M529.0,902.0h15.5M540.6,708.2V807.6M532.9,708.2h15.5M532.9,807.6h15.5M544.5,862.1V961.7M536.8,862.1h15.5M536.8,961.7h15.5M548.5,779.0V879.0M540.8,779.0h15.5M540.8,879.0h15.5M553.4,887.3V987.7M545.6,887.3h15.5M545.6,987.7h15.5M557.4,799.6V900.4M549.6,799.6h15.5M549.6,900.4h15.5M561.6,683.8V785.2M553.9,683.8h15.5M553.9,785.2h15.5M566.2,732.5V834.5M558.5,732.5h15.5M558.5,834.5h15.5M570.2,843.2V945.6M562.5,843.2h15.5M562.5,945.6h15.5M575.0,832.5V935.5M567.2,832.5h15.5M567.2,935.5h15.5M579.3,853.0V956.6M571.5,853.0h15.5M571.5,956.6h15.5M582.2,779.6V883.4M574.5,779.6h15.5M574.5,883.4h15.5M588.3,775.5V880.1M580.5,775.5h15.5M580.5,880.1h15.5M591.5,739.9V844.9M583.8,739.9h15.5M583.8,844.9h15.5M595.7,866.8V972.2M588.0,866.8h15.5M588.0,972.2h15.5M599.3,805.4V911.4M591.5,805.4h15.5M591.5,911.4h15.5M604.2,843.0V949.6M596.5,843.0h15.5M596.5,949.6h15.5M607.9,731.4V838.6M600.1,731.4h15.5M600.1,838.6h15.5M611.6,837.5V945.3M603.9,837.5h15.5M603.9,945.3h15.5M616.5,805.4V913.8M608.8,805.4h15.5M608.8,913.8h15.5M620.9,856.4V965.6M613.1,856.4h15.5M613.1,965.6h15.5M625.0,807.1V916.9M617.2,807.1h15.5M617.2,916.9h15.5M629.2,786.1V896.5M621.5,786.1h15.5M621.5,896.5h15.5M650.7,778.9V891.5M643.0,778.9h15.5M643.0,891.5h15.5M654.4,822.8V935.6M646.6,822.8h15.5M646.6,935.6h15.5M659.2,745.7V858.7M651.5,745.7h15.5M651.5,858.7h15.5M664.1,807.9V921.1M656.4,807.9h15.5M656.4,921.1h15.5M667.8,767.5V880.9M660.0,767.5h15.5M660.0,880.9h15.5M672.7,750.2V863.8M665.0,750.2h15.5M665.0,863.8h15.5M676.4,838.1V951.9M668.6,838.1h15.5M668.6,951.9h15.5M681.2,817.3V931.3M673.5,817.3h15.5M673.5,931.3h15.5M684.2,658.3V772.5M676.5,658.3h15.5M676.5,772.5h15.5M688.6,851.3V965.7M680.9,851.3h15.5M680.9,965.7h15.5M693.5,823.1V937.7M685.8,823.1h15.5M685.8,937.7h15.5M697.1,747.2V862.0M689.4,747.2h15.5M689.4,862.0h15.5M702.0,875.5V990.5M694.2,875.5h15.5M694.2,990.5h15.5M706.9,879.0V994.2M699.1,879.0h15.5M699.1,994.2h15.5M709.9,759.2V874.4M702.1,759.2h15.5M702.1,874.4h15.5M713.8,896.1V1011.3M706.0,896.1h15.5M706.0,1011.3h15.5M717.9,716.4V831.6M710.1,716.4h15.5M710.1,831.6h15.5M722.8,815.3V930.7M715.0,815.3h15.5M715.0,930.7h15.5M726.5,634.4V749.8M718.8,634.4h15.5M718.8,749.8h15.5M730.1,722.3V837.9M722.4,722.3h15.5M722.4,837.9h15.5M735.0,820.1V935.7M727.2,820.1h15.5M727.2,935.7h15.5M738.7,727.2V842.8M731.0,727.2h15.5M731.0,842.8h15.5M743.6,744.3V860.1M735.9,744.3h15.5M735.9,860.1h15.5M747.3,768.7V884.5M739.5,768.7h15.5M739.5,884.5h15.5M752.2,930.1V1045.9M744.5,930.1h15.5M744.5,1045.9h15.5M755.8,762.5V878.5M748.0,762.5h15.5M748.0,878.5h15.5M760.7,835.8V951.8M753.0,835.8h15.5M753.0,951.8h15.5M765.6,763.7V879.7M757.9,763.7h15.5M757.9,879.7h15.5M769.4,802.9V919.1M761.6,802.9h15.5M761.6,919.1h15.5M773.0,757.6V873.8M765.2,757.6h15.5M765.2,873.8h15.5M777.9,812.6V928.8M770.1,812.6h15.5M770.1,928.8h15.5M781.6,872.5V988.9M773.9,872.5h15.5M773.9,988.9h15.5M786.5,785.6V902.0M778.8,785.6h15.5M778.8,902.0h15.5M790.1,758.6V875.2M782.4,758.6h15.5M782.4,875.2h15.5M793.8,835.7V952.3M786.0,835.7h15.5M786.0,952.3h15.5M798.7,797.7V914.3M791.0,797.7h15.5M791.0,914.3h15.5M802.4,794.0V910.8M794.6,794.0h15.5M794.6,910.8h15.5M806.0,748.7V865.5M798.2,748.7h15.5M798.2,865.5h15.5M812.2,740.2V857.0M804.5,740.2h15.5M804.5,857.0h15.5M815.8,757.2V874.2M808.0,757.2h15.5M808.0,874.2h15.5M820.7,735.2V852.2M813.0,735.2h15.5M813.0,852.2h15.5" stroke-width="1.9" stroke-linecap="round"/>
<path d="M197.9,876.9l9.6,9.6M197.9,886.5l9.6,-9.6M201.9,877.7l9.6,9.6M201.9,887.3l9.6,-9.6M204.2,881.2l9.6,9.6M204.2,890.8l9.6,-9.6M206.4,881.2l9.6,9.6M206.4,890.8l9.6,-9.6M213.2,831.2l9.6,9.6M213.2,840.8l9.6,-9.6M220.2,852.2l9.6,9.6M220.2,861.8l9.6,-9.6M222.5,837.1l9.6,9.6M222.5,846.7l9.6,-9.6M227.2,888.4l9.6,9.6M227.2,898.0l9.6,-9.6M231.9,840.6l9.6,9.6M231.9,850.2l9.6,-9.6M236.1,872.1l9.6,9.6M236.1,881.7l9.6,-9.6M240.0,846.4l9.6,9.6M240.0,856.0l9.6,-9.6M244.7,800.9l9.6,9.6M244.7,810.5l9.6,-9.6M248.2,856.9l9.6,9.6M248.2,866.5l9.6,-9.6M252.9,809.1l9.6,9.6M252.9,818.7l9.6,-9.6M256.4,869.7l9.6,9.6M256.4,879.3l9.6,-9.6M261.0,880.2l9.6,9.6M261.0,889.8l9.6,-9.6M264.5,884.9l9.6,9.6M264.5,894.5l9.6,-9.6M269.2,825.4l9.6,9.6M269.2,835.0l9.6,-9.6M275.0,821.9l9.6,9.6M275.0,831.5l9.6,-9.6M278.5,805.6l9.6,9.6M278.5,815.2l9.6,-9.6M282.1,865.1l9.6,9.6M282.1,874.7l9.6,-9.6M286.7,785.7l9.6,9.6M286.7,795.3l9.6,-9.6M291.4,867.4l9.6,9.6M291.4,877.0l9.6,-9.6M294.9,937.4l9.6,9.6M294.9,947.0l9.6,-9.6M299.6,789.2l9.6,9.6M299.6,798.8l9.6,-9.6M304.2,846.4l9.6,9.6M304.2,856.0l9.6,-9.6M307.7,805.6l9.6,9.6M307.7,815.2l9.6,-9.6M312.4,870.9l9.6,9.6M312.4,880.5l9.6,-9.6M315.9,865.1l9.6,9.6M315.9,874.7l9.6,-9.6M324.8,758.9l9.6,9.6M324.8,768.5l9.6,-9.6M332.7,826.6l9.6,9.6M332.7,836.2l9.6,-9.6M336.9,918.7l9.6,9.6M336.9,928.3l9.6,-9.6M341.1,838.2l9.6,9.6M341.1,847.8l9.6,-9.6M345.8,809.1l9.6,9.6M345.8,818.7l9.6,-9.6M349.7,767.1l9.6,9.6M349.7,776.7l9.6,-9.6M354.4,838.2l9.6,9.6M354.4,847.8l9.6,-9.6M363.7,797.4l9.6,9.6M363.7,807.0l9.6,-9.6M367.2,802.1l9.6,9.6M367.2,811.7l9.6,-9.6M370.7,874.4l9.6,9.6M370.7,884.0l9.6,-9.6M376.6,880.2l9.6,9.6M376.6,889.8l9.6,-9.6M378.7,865.1l9.6,9.6M378.7,874.7l9.6,-9.6M384.5,902.4l9.6,9.6M384.5,912.0l9.6,-9.6M392.0,792.0l9.6,9.6M392.0,801.6l9.6,-9.6M399.7,870.9l9.6,9.6M399.7,880.5l9.6,-9.6M405.1,886.1l9.6,9.6M405.1,895.7l9.6,-9.6M409.7,848.7l9.6,9.6M409.7,858.3l9.6,-9.6M413.7,832.4l9.6,9.6M413.7,842.0l9.6,-9.6M417.2,876.7l9.6,9.6M417.2,886.3l9.6,-9.6M421.9,921.1l9.6,9.6M421.9,930.7l9.6,-9.6M425.4,950.2l9.6,9.6M425.4,959.8l9.6,-9.6M430.0,798.6l9.6,9.6M430.0,808.2l9.6,-9.6M435.4,921.1l9.6,9.6M435.4,930.7l9.6,-9.6M438.7,876.7l9.6,9.6M438.7,886.3l9.6,-9.6M443.3,859.2l9.6,9.6M443.3,868.8l9.6,-9.6M451.0,868.6l9.6,9.6M451.0,878.2l9.6,-9.6M455.7,921.1l9.6,9.6M455.7,930.7l9.6,-9.6M458.0,756.6l9.6,9.6M458.0,766.2l9.6,-9.6M464.3,760.1l9.6,9.6M464.3,769.7l9.6,-9.6M468.1,845.2l9.6,9.6M468.1,854.8l9.6,-9.6M471.3,796.2l9.6,9.6M471.3,805.8l9.6,-9.6M476.7,926.9l9.6,9.6M476.7,936.5l9.6,-9.6M480.2,839.4l9.6,9.6M480.2,849.0l9.6,-9.6M484.4,858.1l9.6,9.6M484.4,867.7l9.6,-9.6M489.6,865.1l9.6,9.6M489.6,874.7l9.6,-9.6M493.8,837.1l9.6,9.6M493.8,846.7l9.6,-9.6M497.0,812.6l9.6,9.6M497.0,822.2l9.6,-9.6M502.4,806.7l9.6,9.6M502.4,816.3l9.6,-9.6M505.9,803.2l9.6,9.6M505.9,812.8l9.6,-9.6M510.6,845.2l9.6,9.6M510.6,854.8l9.6,-9.6M515.2,846.4l9.6,9.6M515.2,856.0l9.6,-9.6M519.9,842.9l9.6,9.6M519.9,852.5l9.6,-9.6M523.4,791.6l9.6,9.6M523.4,801.2l9.6,-9.6M528.1,841.7l9.6,9.6M528.1,851.3l9.6,-9.6M532.0,847.6l9.6,9.6M532.0,857.2l9.6,-9.6M535.8,753.1l9.6,9.6M535.8,762.7l9.6,-9.6M539.7,907.1l9.6,9.6M539.7,916.7l9.6,-9.6M543.7,824.2l9.6,9.6M543.7,833.8l9.6,-9.6M548.6,932.7l9.6,9.6M548.6,942.3l9.6,-9.6M552.6,845.2l9.6,9.6M552.6,854.8l9.6,-9.6M556.8,729.7l9.6,9.6M556.8,739.3l9.6,-9.6M561.4,778.7l9.6,9.6M561.4,788.3l9.6,-9.6M565.4,889.6l9.6,9.6M565.4,899.2l9.6,-9.6M570.2,879.2l9.6,9.6M570.2,888.8l9.6,-9.6M574.5,900.0l9.6,9.6M574.5,909.6l9.6,-9.6M577.4,826.7l9.6,9.6M577.4,836.3l9.6,-9.6M583.5,823.0l9.6,9.6M583.5,832.6l9.6,-9.6M586.7,787.6l9.6,9.6M586.7,797.2l9.6,-9.6M590.9,914.7l9.6,9.6M590.9,924.3l9.6,-9.6M594.5,853.6l9.6,9.6M594.5,863.2l9.6,-9.6M599.4,891.5l9.6,9.6M599.4,901.1l9.6,-9.6M603.1,780.2l9.6,9.6M603.1,789.8l9.6,-9.6M606.8,886.6l9.6,9.6M606.8,896.2l9.6,-9.6M611.7,854.8l9.6,9.6M611.7,864.4l9.6,-9.6M616.1,906.2l9.6,9.6M616.1,915.8l9.6,-9.6M620.2,857.2l9.6,9.6M620.2,866.8l9.6,-9.6M624.4,836.5l9.6,9.6M624.4,846.1l9.6,-9.6M645.9,830.4l9.6,9.6M645.9,840.0l9.6,-9.6M649.6,874.4l9.6,9.6M649.6,884.0l9.6,-9.6M654.4,797.4l9.6,9.6M654.4,807.0l9.6,-9.6M659.3,859.7l9.6,9.6M659.3,869.3l9.6,-9.6M663.0,819.4l9.6,9.6M663.0,829.0l9.6,-9.6M667.9,802.2l9.6,9.6M667.9,811.8l9.6,-9.6M671.6,890.2l9.6,9.6M671.6,899.8l9.6,-9.6M676.4,869.5l9.6,9.6M676.4,879.1l9.6,-9.6M679.4,710.6l9.6,9.6M679.4,720.2l9.6,-9.6M683.8,903.7l9.6,9.6M683.8,913.3l9.6,-9.6M688.7,875.6l9.6,9.6M688.7,885.2l9.6,-9.6M692.3,799.8l9.6,9.6M692.3,809.4l9.6,-9.6M697.2,928.2l9.6,9.6M697.2,937.8l9.6,-9.6M702.1,931.8l9.6,9.6M702.1,941.4l9.6,-9.6M705.1,812.0l9.6,9.6M705.1,821.6l9.6,-9.6M709.0,948.9l9.6,9.6M709.0,958.5l9.6,-9.6M713.1,769.2l9.6,9.6M713.1,778.8l9.6,-9.6M718.0,868.2l9.6,9.6M718.0,877.8l9.6,-9.6M721.7,687.3l9.6,9.6M721.7,696.9l9.6,-9.6M725.3,775.3l9.6,9.6M725.3,784.9l9.6,-9.6M730.2,873.1l9.6,9.6M730.2,882.7l9.6,-9.6M733.9,780.2l9.6,9.6M733.9,789.8l9.6,-9.6M738.8,797.4l9.6,9.6M738.8,807.0l9.6,-9.6M742.5,821.8l9.6,9.6M742.5,831.4l9.6,-9.6M747.4,983.2l9.6,9.6M747.4,992.8l9.6,-9.6M751.0,815.7l9.6,9.6M751.0,825.3l9.6,-9.6M755.9,889.0l9.6,9.6M755.9,898.6l9.6,-9.6M760.8,816.9l9.6,9.6M760.8,826.5l9.6,-9.6M764.6,856.2l9.6,9.6M764.6,865.8l9.6,-9.6M768.2,810.9l9.6,9.6M768.2,820.5l9.6,-9.6M773.1,865.9l9.6,9.6M773.1,875.5l9.6,-9.6M776.8,925.9l9.6,9.6M776.8,935.5l9.6,-9.6M781.7,839.0l9.6,9.6M781.7,848.6l9.6,-9.6M785.3,812.1l9.6,9.6M785.3,821.7l9.6,-9.6M789.0,889.2l9.6,9.6M789.0,898.8l9.6,-9.6M793.9,851.2l9.6,9.6M793.9,860.8l9.6,-9.6M797.6,847.6l9.6,9.6M797.6,857.2l9.6,-9.6M801.2,802.3l9.6,9.6M801.2,811.9l9.6,-9.6M807.4,793.8l9.6,9.6M807.4,803.4l9.6,-9.6M811.0,810.9l9.6,9.6M811.0,820.5l9.6,-9.6M815.9,788.9l9.6,9.6M815.9,798.5l9.6,-9.6" stroke-width="2.6" stroke-linecap="round"/>
</g>
<line x1="147.5" y1="1423.9" x2="907.2" y2="1423.9" stroke-width="2.0" />
<line x1="147.5" y1="1413.4" x2="907.2" y2="1413.4" stroke-width="1.8" stroke-dasharray="4.2 4.38"/>
<line x1="147.5" y1="1435.7" x2="907.2" y2="1435.7" stroke-width="1.8" stroke-dasharray="4.2 4.38"/>
<path d="M242.0,1403.1V1508.2M234.5,1403.1h15.0M234.5,1508.2h15.0M263.6,1428.0V1533.1M256.1,1428.0h15.0M256.1,1533.1h15.0M284.8,1475.5V1581.4M277.3,1475.5h15.0M277.3,1581.4h15.0M306.3,1375.9V1483.0M298.8,1375.9h15.0M298.8,1483.0h15.0M327.5,1292.3V1400.5M320.0,1292.3h15.0M320.0,1400.5h15.0M349.0,1261.1V1370.4M341.5,1261.1h15.0M341.5,1370.4h15.0M370.6,1428.3V1536.1M363.1,1428.3h15.0M363.1,1536.1h15.0M391.8,1404.9V1514.6M384.3,1404.9h15.0M384.3,1514.6h15.0M413.3,1323.9V1434.7M405.8,1323.9h15.0M405.8,1434.7h15.0M434.5,1354.4V1465.1M427.0,1354.4h15.0M427.0,1465.1h15.0M456.1,1452.1V1562.9M448.6,1452.1h15.0M448.6,1562.9h15.0M486.2,1320.6V1431.7M478.7,1320.6h15.0M478.7,1431.7h15.0M507.5,1380.0V1490.4M500.0,1380.0h15.0M500.0,1490.4h15.0M529.0,1366.7V1477.4M521.5,1366.7h15.0M521.5,1477.4h15.0M550.2,1330.6V1443.2M542.7,1330.6h15.0M542.7,1443.2h15.0M571.7,1320.6V1434.7M564.2,1320.6h15.0M564.2,1434.7h15.0M592.9,1433.5V1546.5M585.4,1433.5h15.0M585.4,1546.5h15.0M614.1,1333.2V1447.7M606.6,1333.2h15.0M606.6,1447.7h15.0M635.6,1320.6V1436.1M628.1,1320.6h15.0M628.1,1436.1h15.0M656.8,1276.7V1393.0M649.3,1276.7h15.0M649.3,1393.0h15.0M678.4,1348.4V1464.8M670.9,1348.4h15.0M670.9,1464.8h15.0M699.6,1411.6V1528.3M692.1,1411.6h15.0M692.1,1528.3h15.0M721.1,1377.4V1495.6M713.6,1377.4h15.0M713.6,1495.6h15.0M742.3,1332.8V1452.5M734.8,1332.8h15.0M734.8,1452.5h15.0M763.8,1318.3V1439.1M756.3,1318.3h15.0M756.3,1439.1h15.0M785.0,1436.9V1557.7M777.5,1436.9h15.0M777.5,1557.7h15.0M806.6,1408.6V1530.2M799.1,1408.6h15.0M799.1,1530.2h15.0" stroke-width="1.9" stroke-linecap="round"/>
<path d="M237.2,1451.0l9.6,9.6M237.2,1460.6l9.6,-9.6M258.8,1475.6l9.6,9.6M258.8,1485.2l9.6,-9.6M280.0,1523.5l9.6,9.6M280.0,1533.1l9.6,-9.6M301.5,1424.3l9.6,9.6M301.5,1433.9l9.6,-9.6M322.7,1340.7l9.6,9.6M322.7,1350.3l9.6,-9.6M344.2,1310.9l9.6,9.6M344.2,1320.5l9.6,-9.6M365.8,1477.4l9.6,9.6M365.8,1487.0l9.6,-9.6M387.0,1454.8l9.6,9.6M387.0,1464.4l9.6,-9.6M408.5,1374.1l9.6,9.6M408.5,1383.7l9.6,-9.6M429.7,1405.0l9.6,9.6M429.7,1414.6l9.6,-9.6M451.3,1502.3l9.6,9.6M451.3,1511.9l9.6,-9.6M481.4,1371.5l9.6,9.6M481.4,1381.1l9.6,-9.6M502.7,1430.8l9.6,9.6M502.7,1440.4l9.6,-9.6M524.2,1416.9l9.6,9.6M524.2,1426.5l9.6,-9.6M545.4,1382.3l9.6,9.6M545.4,1391.9l9.6,-9.6M566.9,1373.0l9.6,9.6M566.9,1382.6l9.6,-9.6M588.1,1485.6l9.6,9.6M588.1,1495.2l9.6,-9.6M609.3,1385.3l9.6,9.6M609.3,1394.9l9.6,-9.6M630.8,1374.1l9.6,9.6M630.8,1383.7l9.6,-9.6M652.0,1330.3l9.6,9.6M652.0,1339.9l9.6,-9.6M673.6,1402.0l9.6,9.6M673.6,1411.6l9.6,-9.6M694.8,1465.2l9.6,9.6M694.8,1474.8l9.6,-9.6M716.3,1431.7l9.6,9.6M716.3,1441.3l9.6,-9.6M737.5,1387.1l9.6,9.6M737.5,1396.7l9.6,-9.6M759.0,1374.1l9.6,9.6M759.0,1383.7l9.6,-9.6M780.2,1492.3l9.6,9.6M780.2,1501.9l9.6,-9.6M801.8,1464.4l9.6,9.6M801.8,1474.0l9.6,-9.6" stroke-width="2.6" stroke-linecap="round"/>
<g transform="translate(35.2,356.6) rotate(-90) scale(1.04,1)"><text stroke="none" fill="#000" x="0.00" y="0" font-size="38" font-style="italic">R</text><text stroke="none" fill="#000" x="25.64" y="11" font-size="26">sep</text><text stroke="none" fill="#000" x="77.96" y="0" font-size="38">/</text><text stroke="none" fill="#000" x="97.90" y="0" font-size="38">s</text><text stroke="none" fill="#000" x="118.30" y="-16.5" font-size="26">-1</text><rect x="128.26" y="-19.10" width="5.05" height="4.16" fill="#fff" stroke="none"/><rect x="135.92" y="-19.10" width="5.20" height="4.16" fill="#fff" stroke="none"/><text stroke="none" fill="#000" x="150.76" y="0" font-size="38">g</text><text stroke="none" fill="#000" x="172.80" y="-16.5" font-size="26">-1</text><rect x="182.76" y="-19.10" width="5.05" height="4.16" fill="#fff" stroke="none"/><rect x="190.42" y="-19.10" width="5.20" height="4.16" fill="#fff" stroke="none"/></g>
<g transform="translate(35.2,938.6) rotate(-90) scale(1.04,1)"><text stroke="none" fill="#000" x="0.00" y="0" font-size="38" font-style="italic">R</text><text stroke="none" fill="#000" x="25.64" y="11" font-size="26">sep</text><text stroke="none" fill="#000" x="77.96" y="0" font-size="38">/</text><text stroke="none" fill="#000" x="97.90" y="0" font-size="38">s</text><text stroke="none" fill="#000" x="118.30" y="-16.5" font-size="26">-1</text><rect x="128.26" y="-19.10" width="5.05" height="4.16" fill="#fff" stroke="none"/><rect x="135.92" y="-19.10" width="5.20" height="4.16" fill="#fff" stroke="none"/><text stroke="none" fill="#000" x="150.76" y="0" font-size="38">g</text><text stroke="none" fill="#000" x="172.80" y="-16.5" font-size="26">-1</text><rect x="182.76" y="-19.10" width="5.05" height="4.16" fill="#fff" stroke="none"/><rect x="190.42" y="-19.10" width="5.20" height="4.16" fill="#fff" stroke="none"/></g>
<g transform="translate(35.2,1521.4) rotate(-90) scale(1.04,1)"><text stroke="none" fill="#000" x="0.00" y="0" font-size="38" font-style="italic">R</text><text stroke="none" fill="#000" x="25.64" y="11" font-size="26">sep</text><text stroke="none" fill="#000" x="77.96" y="0" font-size="38">/</text><text stroke="none" fill="#000" x="97.90" y="0" font-size="38">s</text><text stroke="none" fill="#000" x="118.30" y="-16.5" font-size="26">-1</text><rect x="128.26" y="-19.10" width="5.05" height="4.16" fill="#fff" stroke="none"/><rect x="135.92" y="-19.10" width="5.20" height="4.16" fill="#fff" stroke="none"/><text stroke="none" fill="#000" x="150.76" y="0" font-size="38">g</text><text stroke="none" fill="#000" x="172.80" y="-16.5" font-size="26">-1</text><rect x="182.76" y="-19.10" width="5.05" height="4.16" fill="#fff" stroke="none"/><rect x="190.42" y="-19.10" width="5.20" height="4.16" fill="#fff" stroke="none"/></g>
<text stroke="none" fill="#000" x="439" y="1783.6" font-size="38" text-anchor="start">(<tspan font-style="italic">t</tspan> - <tspan font-style="italic">t</tspan><tspan font-size="26" dy="8.4">sep</tspan></text>
<text stroke="none" fill="#000" x="551.0" y="1783.6" font-size="38">)</text><text stroke="none" fill="#000" x="572.8" y="1783.6" font-size="38">/</text><text stroke="none" fill="#000" x="592.7" y="1783.6" font-size="38">d</text>
</g>
</svg>
</body></html>
